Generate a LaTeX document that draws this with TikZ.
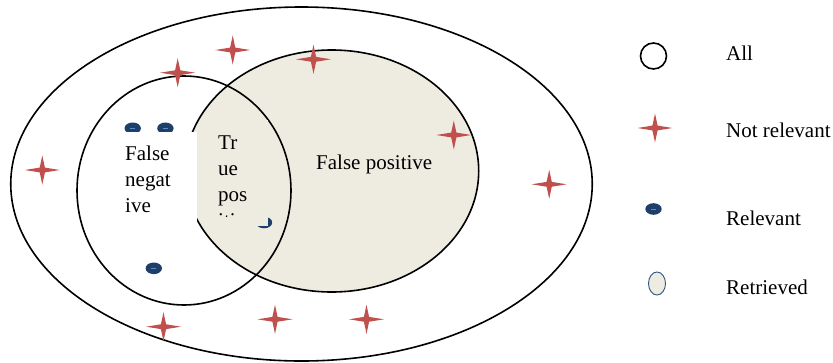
\documentclass[tikz,border=0pt]{standalone}
\usepackage{fontspec}
\setmainfont{Liberation Serif}
\usetikzlibrary{shapes.geometric}
\definecolor{beige}{HTML}{EEECE1}
\definecolor{starred}{HTML}{C0504D}
\definecolor{dotblue}{HTML}{1F3F6B}
\definecolor{dotlight}{HTML}{5B8CC8}
\definecolor{retblue}{HTML}{2E5485}
\tikzset{
  ring/.style={ellipse, draw, line width=1.6pt, inner sep=0},
  lbl/.style={font=\fontsize{21}{26}\selectfont, inner sep=0},
  notrel/.pic={\fill[starred] (17.5,0) -- (2.6,2.4) -- (0,14.5) -- (-2.6,2.4) -- (-17.5,0) -- (-2.6,-2.4) -- (0,-14.5) -- (2.6,-2.4) -- cycle;},
  relev/.pic={\fill[dotblue] (0,0) ellipse (8.2pt and 5.8pt);
    \draw[dotlight, line width=0.9pt] (-2.4,0) -- (2.4,0);}
}
\begin{document}
\begin{tikzpicture}[x=1pt,y=-1pt]
\path[use as bounding box, fill=white] (0,0) rectangle (833,362);

% sets
\node (all) [ring, minimum width=581.5pt, minimum height=354pt] at (301.5,184) {};
\node (retrieved) [ring, fill=beige, minimum width=294pt, minimum height=242pt] at (331.7,171) {};
\node (relevant) [ring, minimum width=214pt, minimum height=229pt] at (184,190.5) {};

% not relevant
\foreach \p in {(232.7,50),(177.7,72.7),(313.5,59.3),(453.8,135),(42.3,170),(549.2,184.3),(163.5,326.7),(275,319.3),(366.5,319.3)}
  \pic at \p {notrel};

% relevant
\foreach \p in {(132.7,128.3),(165.4,128.3),(153.8,268.3),(264,222.5)}
  \pic at \p {relev};

% text boxes
\node (fnbox) [fill=white, minimum width=85pt, minimum height=98.5pt, inner sep=0, anchor=north west] at (112,131.7) {};
\node (fn) [lbl, align=left, anchor=north west] at (125,145.7) {False\\negat\\ive};
\node (tpbox) [fill=beige, minimum width=60pt, minimum height=106pt, inner sep=0, anchor=north west] at (208,120) {};
\begin{scope}
\clip (208,120) rectangle (268,216.5);
\node (tp) [lbl, align=left, anchor=north west] at (218,135.1) {Tr\\ue\\pos\\itive};
\end{scope}
\node (fp) [lbl, anchor=base west] at (316,169) {False positive};

% legend
\node (keyall) [ring, circle, minimum size=26pt] at (653.5,56) {};
\node (keyalltxt) [lbl, anchor=base west] at (726,60.7) {All};
\pic (keynr) at (655,128) {notrel};
\node (keynrtxt) [lbl, anchor=base west] at (726,137.3) {Not relevant};
\pic (keyrel) at (653.5,209) {relev};
\node (keyreltxt) [lbl, anchor=base west] at (726,225.7) {Relevant};
\node (keyret) [ellipse, draw=retblue, fill=beige, line width=0.9pt, minimum width=17pt, minimum height=23pt, inner sep=0] at (657,283.5) {};
\node (keyrettxt) [lbl, anchor=base west] at (726,294) {Retrieved};
\end{tikzpicture}
\end{document}
